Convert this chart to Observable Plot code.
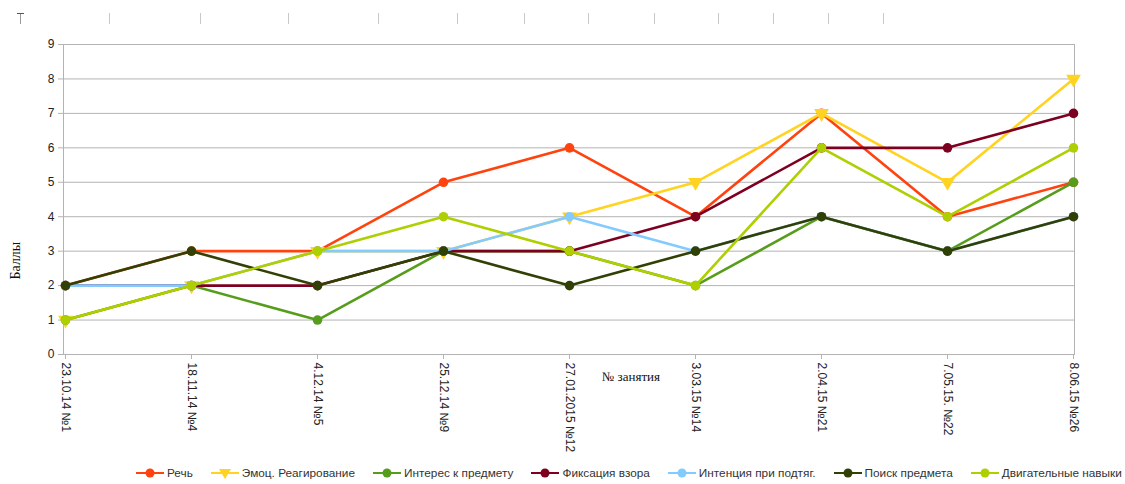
<!DOCTYPE html>
<html>
<head>
<meta charset="utf-8">
<script src="https://cdn.jsdelivr.net/npm/d3@7"></script>
<script src="https://cdn.jsdelivr.net/npm/@observablehq/plot@0.6"></script>
<style>
  html, body { margin: 0; padding: 0; background: #fff; }
  #wrap { position: relative; width: 1125px; height: 484px; overflow: hidden; background: #fff; }
  #chart { position: absolute; left: 0; top: 0; }
  #ruler { position: absolute; left: 0; top: 0; width: 1125px; height: 30px; z-index: 2; }
  #ruler span { position: absolute; top: 13px; width: 1px; height: 11px; background: #c8c8c8; }
  #ruler span.cap { background: #999; }
  #ruler span.cap::before { content: ""; position: absolute; left: -3px; top: 0; width: 7px; height: 1px; background: #555; }
  #legend { position: absolute; left: 136px; top: 462px; height: 22px; z-index: 2;
            display: flex; align-items: center; gap: 18px;
            font: 11.8px "Liberation Sans", Arial, sans-serif; color: #333; }
  #legend .item { display: flex; align-items: center; gap: 3px; white-space: nowrap; }
</style>
</head>
<body>
<div id="wrap">
  <div id="chart"></div>
  <div id="ruler"></div>
  <div id="legend"></div>
</div>
<script>
// Session dates / numbers along the horizontal axis
const sessions = [
  "23.10.14 №1", "18.11.14 №4", "4.12.14 №5", "25.12.14 №9", "27.01.2015 №12",
  "3.03.15 №14", "2.04.15 №21", "7.05.15. №22", "8.06.15 №26"
];

// Scores (баллы) per skill, one value per session
const rech          = [2, 3, 3, 5, 6, 4, 7, 4, 5];
const emotsReag     = [1, 2, 3, 3, 4, 5, 7, 5, 8];
const interes       = [1, 2, 1, 3, 3, 2, 4, 3, 5];
const fiksatsiya    = [2, 2, 2, 3, 3, 4, 6, 6, 7];
const intentsiya    = [2, 2, 3, 3, 4, 3, 4, 3, 4];
const poisk         = [2, 3, 2, 3, 2, 3, 4, 3, 4];
const dvigatelnye   = [1, 2, 3, 4, 3, 2, 6, 4, 6];

const yTicks = [0, 1, 2, 3, 4, 5, 6, 7, 8, 9];

const series = [
  { name: "Речь",                  values: rech,        color: "#ff420e", symbol: "circle" },
  { name: "Эмоц. Реагирование",    values: emotsReag,   color: "#ffd320", symbol: "triangle" },
  { name: "Интерес к предмету",    values: interes,     color: "#579d1c", symbol: "circle" },
  { name: "Фиксация взора",        values: fiksatsiya,  color: "#7e0021", symbol: "circle" },
  { name: "Интенция при подтяг.",  values: intentsiya,  color: "#83caff", symbol: "circle" },
  { name: "Поиск предмета",        values: poisk,       color: "#314004", symbol: "circle" },
  { name: "Двигательные навыки",   values: dvigatelnye, color: "#aecf00", symbol: "circle" }
];

const rows = s => s.values.map((v, i) => ({ session: sessions[i], value: v }));

// Each series: its line, then its markers, so later series sit on top
const seriesMarks = series.flatMap(s => [
  Plot.line(rows(s), { x: "session", y: "value", stroke: s.color, strokeWidth: 2.6 }),
  Plot.dot(rows(s), {
    x: "session", y: "value", fill: s.color, stroke: "none",
    symbol: s.symbol, r: s.symbol === "triangle" ? 5.5 : 4.8,
    rotate: s.symbol === "triangle" ? 180 : 0
  })
]);

const chart = Plot.plot({
  width: 1125,
  height: 462,
  marginLeft: 63,
  marginRight: 51,
  marginTop: 44,
  marginBottom: 108,
  style: { fontFamily: "'Liberation Sans', Arial, sans-serif", fontSize: "12px", color: "#222", background: "#fff" },
  x: { type: "point", domain: sessions, padding: 0 },
  y: { domain: [0, 9] },
  marks: [
    Plot.gridY(yTicks, { stroke: "#b3b3b3", strokeOpacity: 1 }),
    Plot.frame({ stroke: "#b3b3b3" }),
    Plot.axisY(yTicks, { tickSize: 5, tickPadding: 4, stroke: "#b3b3b3", label: null, tickFormat: d => d }),
    Plot.axisX({ tickSize: 5, tickPadding: 3, tickRotate: 90, stroke: "#b3b3b3", label: null }),
    Plot.text(["№ занятия"], {
      frameAnchor: "bottom", dx: 62, dy: 26,
      fontFamily: "'Liberation Serif', 'Times New Roman', serif", fontSize: 13, fill: "#111"
    }),
    Plot.text(["Баллы"], {
      frameAnchor: "left", dx: -48, dy: 80, rotate: -90,
      fontFamily: "'Liberation Serif', 'Times New Roman', serif", fontSize: 14, fill: "#111"
    }),
    ...seriesMarks
  ]
});
document.getElementById("chart").appendChild(chart);

// Faint ruler strip along the top edge
const rulerTicks = [109, 200, 288, 378, 457, 524, 588, 654, 718, 773, 828, 883];
const ruler = document.getElementById("ruler");
const cap = document.createElement("span");
cap.className = "cap";
cap.style.left = "20px";
ruler.appendChild(cap);
rulerTicks.forEach(x => {
  const t = document.createElement("span");
  t.style.left = x + "px";
  ruler.appendChild(t);
});

// Legend: line segment with the series marker, then its name
const legend = document.getElementById("legend");
series.forEach(s => {
  const item = document.createElement("div");
  item.className = "item";
  const marker = s.symbol === "triangle"
    ? `<path d="M8,6 L20,6 L14,16 Z" fill="${s.color}"/>`
    : `<circle cx="14" cy="10" r="4.5" fill="${s.color}"/>`;
  item.innerHTML =
    `<svg width="28" height="20"><line x1="0" x2="28" y1="10" y2="10" stroke="${s.color}" stroke-width="2"/>${marker}</svg>` +
    `<span>${s.name}</span>`;
  legend.appendChild(item);
});
</script>
</body>
</html>
